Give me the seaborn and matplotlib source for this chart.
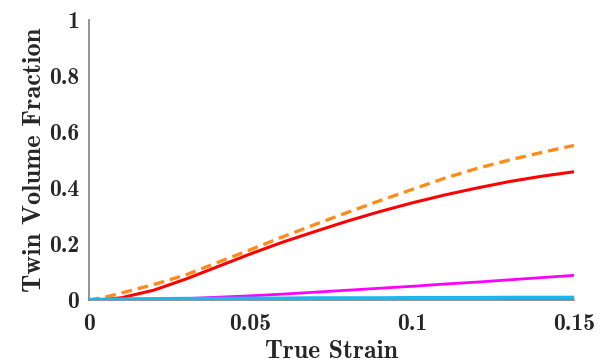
import matplotlib
matplotlib.use("Agg")
import matplotlib.pyplot as plt
import seaborn as sns
import pandas as pd
import numpy as np

strain = [0.0, 0.005, 0.01, 0.02, 0.03, 0.04, 0.05, 0.06, 0.07, 0.08,
          0.09, 0.10, 0.11, 0.12, 0.13, 0.14, 0.15]
red_vals = [0.0, 0.002, 0.008, 0.035, 0.075, 0.12, 0.165, 0.207, 0.245, 0.282,
            0.316, 0.347, 0.375, 0.40, 0.423, 0.442, 0.458]
orange_vals = [0.0, 0.01, 0.025, 0.055, 0.09, 0.135, 0.18, 0.226, 0.27, 0.313,
               0.355, 0.395, 0.435, 0.47, 0.50, 0.527, 0.552]
magenta_vals = [0.0, 0.0, 0.0005, 0.002, 0.005, 0.01, 0.015, 0.021, 0.028, 0.035,
                0.042, 0.049, 0.057, 0.064, 0.072, 0.080, 0.088]
blue_vals = [0.0, 0.0005, 0.001, 0.0015, 0.002, 0.0025, 0.003, 0.003, 0.0035, 0.0035,
             0.004, 0.004, 0.0045, 0.0045, 0.005, 0.005, 0.005]
cyan_vals = [0.0, 0.001, 0.002, 0.003, 0.004, 0.004, 0.005, 0.005, 0.006, 0.006,
             0.006, 0.007, 0.007, 0.007, 0.008, 0.008, 0.008]

x_ticks = [0, 0.05, 0.1, 0.15]
x_tick_labels = ["0", "0.05", "0.1", "0.15"]
y_ticks = [0, 0.2, 0.4, 0.6, 0.8, 1.0]
y_tick_labels = ["0", "0.2", "0.4", "0.6", "0.8", "1"]

sns.set_style("white")
plt.rcParams['font.family'] = ['cmb10', 'DejaVu Serif']

fig = plt.figure(figsize=(6.02, 3.62), dpi=100)
ax = fig.add_axes([89/602, (362-300)/362, (574-89)/602, (300-20)/362])

txt = "#262626"
series = [
    ("blue", blue_vals, "#1060c0", "-", 2.5),
    ("cyan", cyan_vals, "#1ab8ec", "-", 3.0),
    ("magenta", magenta_vals, "#ff00ff", "-", 2.0),
    ("red", red_vals, "#ff0000", "-", 2.2),
    ("orange", orange_vals, "#ff8c1a", "--", 2.4),
]
for name, vals, col, ls, lw in series:
    df = pd.DataFrame({"strain": strain, "frac": vals})
    sns.lineplot(data=df, x="strain", y="frac", ax=ax, color=col, linestyle=ls,
                 linewidth=lw, zorder=3 if name != "cyan" else 4)
for line in ax.get_lines():
    if line.get_linestyle() == "--":
        line.set_dashes([3.2, 1.8])

ax.set_xlim(0, 0.15)
ax.set_ylim(0, 1)
ax.set_xticks(x_ticks)
ax.set_xticklabels(x_tick_labels)
ax.set_yticks(y_ticks)
ax.set_yticklabels(y_tick_labels)
ax.tick_params(direction="in", length=4, width=1, colors="#808080",
               labelcolor=txt, labelsize=17)
ax.tick_params(axis="x", pad=9)
ax.tick_params(axis="y", pad=7)
for s in ["top", "right"]:
    ax.spines[s].set_visible(False)
for s in ["left", "bottom"]:
    ax.spines[s].set_color("#808080")
    ax.spines[s].set_linewidth(1.2)
ax.set_xlabel("True Strain", fontsize=18.5, color=txt, labelpad=4)
ax.set_ylabel("Twin Volume Fraction", fontsize=19, color=txt, labelpad=2)

fig.savefig("out.png", dpi=100)
